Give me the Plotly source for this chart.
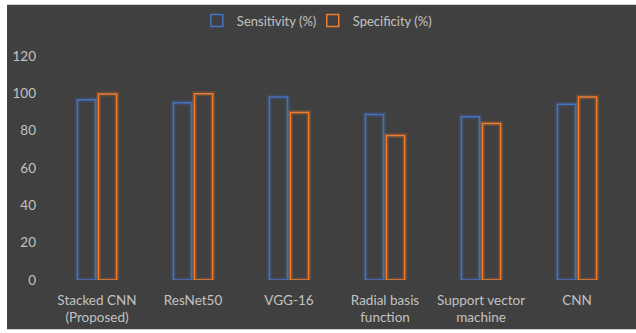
import plotly.graph_objects as go

categories = ["Stacked CNN<br>(Proposed)", "ResNet50", "VGG-16", "Radial basis<br>function",
              "Support vector<br>machine", "CNN"]
sensitivity = [96.5, 95.0, 98.0, 88.6, 87.5, 94.2]
specificity = [99.7, 99.8, 89.7, 77.4, 83.8, 98.0]
series_names = ["Sensitivity (%)", "Specificity (%)"]
y_ticks = [0, 20, 40, 60, 80, 100, 120]

BLUE = "#4472C4"
ORANGE = "#ED7D31"
BG = "#404040"
TXT = "#C2C2C2"

fig = go.Figure()
for vals, col, name, grp, leg in [(sensitivity, BLUE, series_names[0], "a", "legend"),
                                  (specificity, ORANGE, series_names[1], "b", "legend2")]:
    # glow
    fig.add_trace(go.Bar(x=categories, y=vals, offsetgroup=grp, showlegend=False,
                         marker=dict(color="rgba(0,0,0,0)", line=dict(color=col, width=5)),
                         opacity=0.2, hoverinfo="skip"))
    fig.add_trace(go.Bar(x=categories, y=vals, name=name, offsetgroup=grp, legend=leg,
                         marker=dict(color="rgba(0,0,0,0)", line=dict(color=col, width=1.5))))

W, H = 636, 333
L, R, T, B = 49, 10.5, 55.5, 52.5
pw, ph = W - L - R, H - T - B

def px(x):
    return (x - L) / pw

def py(y):
    return (H - B - y) / ph

legend_common = dict(orientation="h", xanchor="left", y=py(20), yanchor="middle",
                     bgcolor="rgba(0,0,0,0)", font=dict(size=13, color=TXT),
                     itemwidth=30)

fig.update_layout(
    width=W, height=H,
    margin=dict(l=L, r=R, t=T, b=B, autoexpand=False),
    paper_bgcolor="white",
    plot_bgcolor=BG,
    barmode="group", bargap=0.56, bargroupgap=0.14,
    font=dict(family="Lato, Open Sans, sans-serif", size=13.5, color=TXT),
    shapes=[dict(type="rect", xref="paper", yref="paper", layer="below",
                 x0=px(7), x1=px(W + 2), y0=py(330), y1=py(4),
                 fillcolor=BG, line=dict(width=0))],
    legend=dict(x=px(197), **legend_common),
    legend2=dict(x=px(313), **legend_common),
    xaxis=dict(showgrid=False, showline=False, ticks="", tickfont=dict(size=13.5, color=TXT),
               ticklabelstandoff=10),
    yaxis=dict(range=[0, 120], tickvals=y_ticks, showgrid=False, zeroline=False,
               showline=False, ticks="", tickfont=dict(size=13.5, color=TXT), ticklabelstandoff=12),
)

fig.write_html("out.html", config={"displayModeBar": False},
               post_script="document.body.style.margin='0';")
